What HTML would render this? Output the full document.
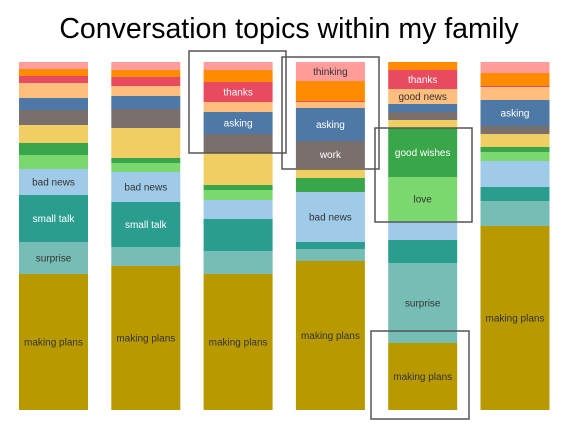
<!DOCTYPE html>
<html><head><meta charset="utf-8"><style>
body{margin:0;background:#fff;width:574px;height:434px;overflow:hidden;font-family:"Liberation Sans",sans-serif}
</style></head><body>
<svg id="chart" width="574" height="434" xmlns="http://www.w3.org/2000/svg">
<text x="289" y="38" text-anchor="middle" font-size="28.5" fill="#000">Conversation topics within my family</text>
<g id="bars"></g>
<g id="boxes"></g>
</svg>
<script>
// Segment heights per category (bottom to top), one value per bar
const bars = ["family-1","family-2","family-3","family-4","family-5","family-6"];
const categories = ["making plans","surprise","small talk","bad news","love","good wishes","other yellow","work","asking","good news","thanks","other orange","thinking"];
const makingPlans = [136,144,136,149,67,184];
const surprise    = [32,19,23,12,80,25];
const smallTalk   = [47,45,32,7,23,14];
const badNews     = [26,30,19,50,19,26];
const love        = [14,9,10,0,44,9];
const goodWishes  = [12,5,5,14,49,5];
const yellowTopic = [18,30,32,10,8,13];
const work        = [15,19,19,27,8,8];
const asking      = [12,13,22,33,8,26];
const goodNews    = [15,10,10,6,15,13];
const thanks      = [7,9,20,1,19,1];
const orangeTopic = [7,7,12,20,8,13];
const thinking    = [7,8,8,19,0,11];
const series = [makingPlans,surprise,smallTalk,badNews,love,goodWishes,yellowTopic,work,asking,goodNews,thanks,orangeTopic,thinking];
const colors = ["#b89a00","#76beb5","#2a9d8f","#a0cbe8","#7bd86f","#3aa64a","#f1ce63","#79706e","#4e79a7","#ffbe7d","#e84a5f","#ff8c00","#ff9d9a"];
const darkText = [true,true,false,true,true,false,true,false,false,true,false,false,true];
// labels: [barIndex, categoryIndex]
const labels = [[0,0],[0,1],[0,2],[0,3],[1,0],[1,2],[1,3],[2,0],[2,8],[2,10],[3,0],[3,3],[3,7],[3,8],[3,12],[4,0],[4,1],[4,4],[4,5],[4,9],[4,10],[5,0],[5,8]];

const plotBottom=410, plotTop=62, total=348;
const xLeft=19, step=92.3, barW=69;
function xPos(i){return xLeft+i*step;}
function yScale(v){return v*(plotBottom-plotTop)/total;}
const NS="http://www.w3.org/2000/svg";
const g=document.getElementById('bars');
const centers={};
bars.forEach((b,i)=>{
  let y=plotBottom;
  series.forEach((s,c)=>{
    const h=yScale(s[i]);
    if(h<=0) return;
    y-=h;
    const r=document.createElementNS(NS,'rect');
    r.setAttribute('x',xPos(i));r.setAttribute('y',y);r.setAttribute('width',barW);r.setAttribute('height',h);
    r.setAttribute('fill',colors[c]);
    
    
    g.appendChild(r);
    centers[i+'_'+c]=y+h/2;
  });
});
labels.forEach(([i,c])=>{
  const t=document.createElementNS(NS,'text');
  t.setAttribute('x',xPos(i)+barW/2);t.setAttribute('y',centers[i+'_'+c]+3.5);
  t.setAttribute('text-anchor','middle');t.setAttribute('font-size','10');
  t.setAttribute('fill',darkText[c]?'#333':'#fff');
  
  
  t.textContent=categories[c];
  g.appendChild(t);
});
const boxes=[[189,51,97,102],[282,57,97,112],[375,128,97,94],[371,331,98,88]];
const bg=document.getElementById('boxes');
boxes.forEach(b=>{
  const r=document.createElementNS(NS,'rect');
  r.setAttribute('x',b[0]);r.setAttribute('y',b[1]);r.setAttribute('width',b[2]);r.setAttribute('height',b[3]);
  r.setAttribute('fill','none');r.setAttribute('stroke','#555');r.setAttribute('stroke-width','1.5');
  
  
  bg.appendChild(r);
});
</script>
</body></html>
